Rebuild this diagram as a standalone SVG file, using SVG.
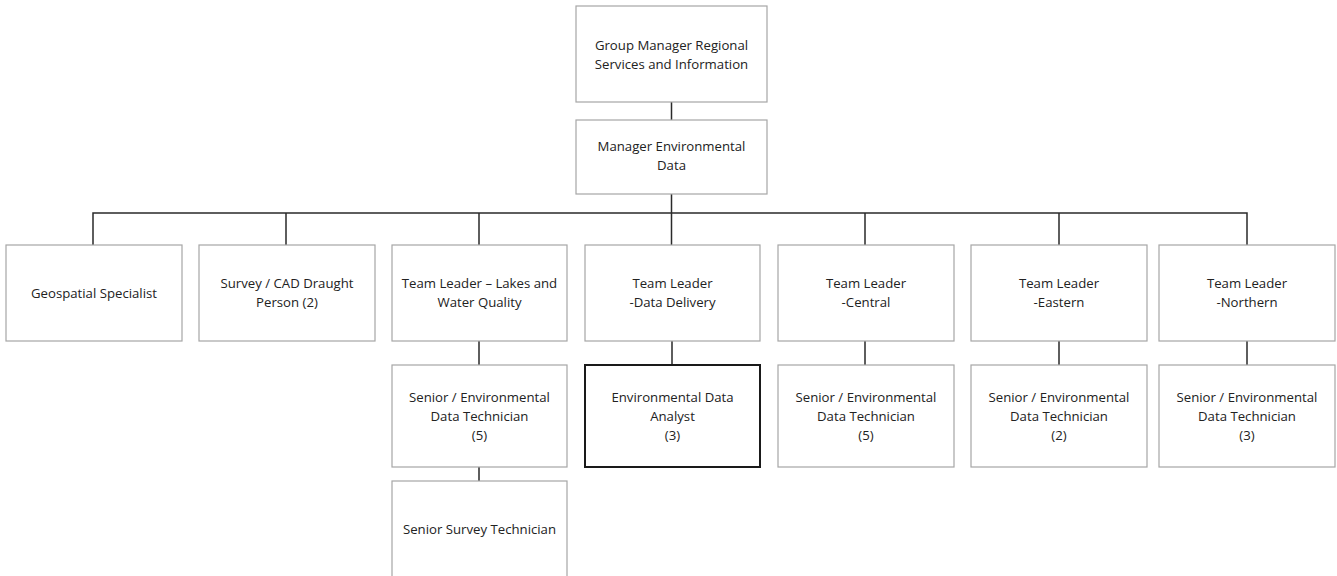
<svg xmlns="http://www.w3.org/2000/svg" width="1337" height="576" viewBox="0 0 1337 576">
<style>
.box{fill:#fff;stroke:#a6a6a6;stroke-width:1.2}
.bold{fill:#fff;stroke:#1a1a1a;stroke-width:2}
.t{font-family:"Open Sans","Liberation Sans",sans-serif;font-size:13.2px;fill:#222;text-anchor:middle}
.c{fill:none;stroke:#2a2a2a;stroke-width:1.5}
</style>
<rect width="1337" height="576" fill="#fff"/>
<g id="connectors">
<path class="c" d="M671.5 102V120M671.5 194V213M93 245V213H1247V245M286 213V245M479 213V245M865 213V245M1059 213V245M671.5 213V245"/>
<path class="c" d="M479 341V365M479 467V481M672 341V365M865 341V365M1059 341V365M1247 341V365"/>
</g>
<g id="n1"><rect class="box" x="576" y="6" width="191" height="96"/><text class="t" x="671.5" y="50">Group Manager Regional</text><text class="t" x="671.5" y="69">Services and Information</text></g>
<g id="n2"><rect class="box" x="576" y="120" width="191" height="74"/><text class="t" x="671.5" y="151">Manager Environmental</text><text class="t" x="671.5" y="170">Data</text></g>
<g id="n3"><rect class="box" x="6" y="245" width="176" height="96"/><text class="t" x="94" y="298">Geospatial Specialist</text></g>
<g id="n4"><rect class="box" x="199" y="245" width="176" height="96"/><text class="t" x="287" y="288">Survey / CAD Draught</text><text class="t" x="287" y="307">Person (2)</text></g>
<g id="n5"><rect class="box" x="392" y="245" width="175" height="96"/><text class="t" x="479.5" y="288">Team Leader – Lakes and</text><text class="t" x="479.5" y="307">Water Quality</text></g>
<g id="n6"><rect class="box" x="585" y="245" width="175" height="96"/><text class="t" x="672.5" y="288">Team Leader</text><text class="t" x="672.5" y="307">-Data Delivery</text></g>
<g id="n7"><rect class="box" x="778" y="245" width="176" height="96"/><text class="t" x="866" y="288">Team Leader</text><text class="t" x="866" y="307">-Central</text></g>
<g id="n8"><rect class="box" x="971" y="245" width="176" height="96"/><text class="t" x="1059" y="288">Team Leader</text><text class="t" x="1059" y="307">-Eastern</text></g>
<g id="n9"><rect class="box" x="1159" y="245" width="176" height="96"/><text class="t" x="1247" y="288">Team Leader</text><text class="t" x="1247" y="307">-Northern</text></g>
<g id="n10"><rect class="box" x="392" y="365" width="175" height="102"/><text class="t" x="479.5" y="402">Senior / Environmental</text><text class="t" x="479.5" y="421">Data Technician</text><text class="t" x="479.5" y="440">(5)</text></g>
<g id="n11"><rect class="bold" x="585" y="365" width="175" height="102"/><text class="t" x="672.5" y="402">Environmental Data</text><text class="t" x="672.5" y="421">Analyst</text><text class="t" x="672.5" y="440">(3)</text></g>
<g id="n12"><rect class="box" x="778" y="365" width="176" height="102"/><text class="t" x="866" y="402">Senior / Environmental</text><text class="t" x="866" y="421">Data Technician</text><text class="t" x="866" y="440">(5)</text></g>
<g id="n13"><rect class="box" x="971" y="365" width="176" height="102"/><text class="t" x="1059" y="402">Senior / Environmental</text><text class="t" x="1059" y="421">Data Technician</text><text class="t" x="1059" y="440">(2)</text></g>
<g id="n14"><rect class="box" x="1159" y="365" width="176" height="102"/><text class="t" x="1247" y="402">Senior / Environmental</text><text class="t" x="1247" y="421">Data Technician</text><text class="t" x="1247" y="440">(3)</text></g>
<g id="n15"><rect class="box" x="392" y="481" width="175" height="100"/><text class="t" x="479.5" y="534">Senior Survey Technician</text></g>
</svg>
